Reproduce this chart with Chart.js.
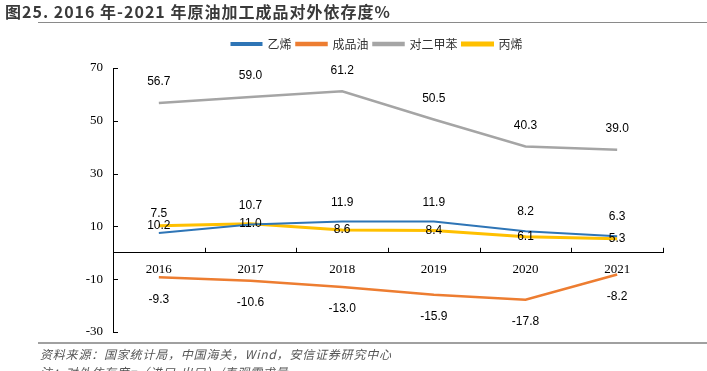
<!DOCTYPE html>
<html>
<head>
<meta charset="utf-8">
<script src="https://cdn.jsdelivr.net/npm/chart.js@4.4.1/dist/chart.umd.min.js"></script>
<style>
  html, body { margin: 0; padding: 0; background: #fff; }
  #wrap { position: relative; width: 707px; height: 371px; overflow: hidden; }
  #c { position: absolute; left: 0; top: 0; }
  .title { position: absolute; left: 5px; top: 1px; font-family: "Noto Sans CJK SC", sans-serif; font-weight: bold; font-size: 16px; letter-spacing: 1px; color: #3a3a3a; white-space: nowrap; line-height: 20px; }
  .topline { position: absolute; left: 38px; right: 0; top: 22px; height: 1px; background: #8a8a8a; }
  .botline { position: absolute; left: 38px; right: 0; top: 342px; height: 2px; background: #a0a0a0; }
  .src { position: absolute; left: 40px; font-family: "Noto Sans CJK SC", sans-serif; font-style: italic; font-size: 12px; letter-spacing: 0.8px; color: #555; white-space: nowrap; line-height: 14px; }
</style>
</head>
<body>
<div id="wrap">
  <canvas id="c" width="707" height="371"></canvas>
  <div class="title">图25. 2016 年-2021 年原油加工成品对外依存度%</div>
  <div class="topline"></div>
  <div class="botline"></div>
  <div class="src" style="top:347px;">资料来源：国家统计局，中国海关，Wind，安信证券研究中心</div>
  <div class="src" style="top:365px;">注：对外依存度=（进口-出口）/表观需求量</div>
</div>
<script>
const categories = ["2016", "2017", "2018", "2019", "2020", "2021"];
const seriesNames = ["乙烯", "成品油", "对二甲苯", "丙烯"];
const ethylene = [7.5, 10.7, 11.9, 11.9, 8.2, 6.3];
const refinedOil = [-9.3, -10.6, -13.0, -15.9, -17.8, -8.2];
const paraxylene = [56.7, 59.0, 61.2, 50.5, 40.3, 39.0];
const propylene = [10.2, 11.0, 8.6, 8.4, 6.1, 5.3];
const yTicks = [-30, -10, 10, 30, 50, 70];

const colors = ["#2E75B6", "#ED7D31", "#A5A5A5", "#FFC000"];
const widths = [2, 2.5, 2.5, 3];
const labelOffsets = [-19, 22, -21, 0];

const legendSpace = {
  id: 'legendSpace',
  beforeInit(chart) {
    const lg = chart.legend;
    if (!lg) return;
    const origFit = lg.fit;
    lg.fit = function () { origFit.call(this); this.height += 8; };
  },
  afterLayout(chart) {
    const lg = chart.legend;
    if (!lg) return;
    lg.left += 9;
    lg.right += 9;
  }
};

const inwardTicks = {
  id: 'inwardTicks',
  afterDraw(chart) {
    const ctx = chart.ctx;
    const xs = chart.scales.x, ys = chart.scales.y;
    const left = chart.chartArea.left;
    const y0 = ys.getPixelForValue(0);
    ctx.save();
    ctx.strokeStyle = '#000';
    ctx.lineWidth = 1;
    ctx.beginPath();
    ys.ticks.forEach(t => {
      const py = Math.round(ys.getPixelForValue(t.value)) + 0.5;
      ctx.moveTo(left, py);
      ctx.lineTo(left + 5, py);
    });
    const n = categories.length;
    for (let i = 0; i < n; i++) {
      const a = xs.getPixelForValue(i);
      const b = i < n - 1 ? xs.getPixelForValue(i + 1) : a + (a - xs.getPixelForValue(i - 1));
      const px = Math.round((a + b) / 2) + 0.5;
      ctx.moveTo(px, y0);
      ctx.lineTo(px, y0 - 5);
    }
    ctx.stroke();
    ctx.restore();
  }
};

const dataLabels = {
  id: 'dataLabels',
  afterDatasetsDraw(chart) {
    const ctx = chart.ctx;
    ctx.save();
    ctx.font = '12px "Liberation Sans", Arial, sans-serif';
    ctx.fillStyle = '#000';
    ctx.textAlign = 'center';
    ctx.textBaseline = 'middle';
    chart.data.datasets.forEach((ds, di) => {
      const meta = chart.getDatasetMeta(di);
      meta.data.forEach((pt, i) => {
        ctx.fillText(ds.data[i].toFixed(1), pt.x, pt.y + labelOffsets[di]);
      });
    });
    ctx.restore();
  }
};

const allSeries = [ethylene, refinedOil, paraxylene, propylene];

new Chart(document.getElementById('c'), {
  type: 'line',
  data: {
    labels: categories,
    datasets: allSeries.map((d, i) => ({
      label: seriesNames[i],
      data: d,
      borderColor: colors[i],
      backgroundColor: colors[i],
      borderWidth: widths[i],
      pointRadius: 0,
      tension: 0,
      fill: false
    }))
  },
  options: {
    responsive: false,
    animation: false,
    layout: { padding: { left: 73, right: 44, top: 33, bottom: 39 } },
    plugins: {
      legend: {
        position: 'top',
        labels: {
          boxWidth: 30,
          boxHeight: 2,
          padding: 5,
          color: '#333',
          font: { family: '"Noto Sans CJK SC", sans-serif', size: 12 }
        }
      },
      tooltip: { enabled: false }
    },
    scales: {
      x: {
        type: 'category',
        position: { y: 0 },
        offset: true,
        grid: { display: true, drawOnChartArea: false, drawTicks: false },
        border: { display: true, color: '#000', width: 1 },
        ticks: { color: '#000', padding: 9, maxRotation: 0, font: { family: '"Liberation Serif", serif', size: 13 } }
      },
      y: {
        type: 'linear',
        min: -30,
        max: 70,
        afterBuildTicks(scale) { scale.ticks = yTicks.map(v => ({ value: v })); },
        afterFit(scale) { scale.width = 40; },
        grid: { display: true, drawOnChartArea: false, drawTicks: false },
        border: { display: true, color: '#000', width: 1 },
        ticks: { color: '#000', padding: 10, font: { family: '"Liberation Serif", serif', size: 13 } }
      }
    }
  },
  plugins: [legendSpace, inwardTicks, dataLabels]
});
</script>
</body>
</html>
